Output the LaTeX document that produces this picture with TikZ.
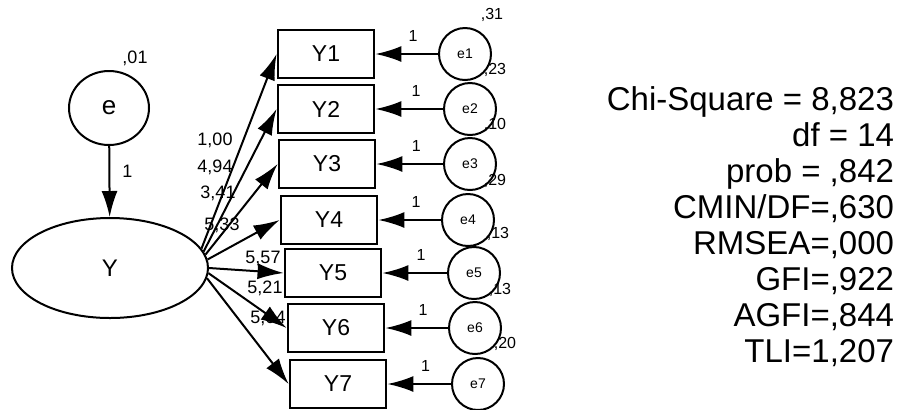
\documentclass[tikz,border=0pt]{standalone}
\usepackage{fontspec}
\setmainfont{Liberation Sans}
\usetikzlibrary{arrows.meta, shapes.geometric}

\begin{document}
\begin{tikzpicture}[x=0.5pt,y=-0.5pt,>={Latex[length=13pt,width=8pt]},line width=1pt,
	obs/.style={draw,line width=1.4pt,minimum width=48pt,minimum height=24pt,inner sep=0pt,
		font=\fontsize{11.5}{13}\selectfont},
	lat/.style={draw,ellipse,inner sep=0pt},
	err/.style={draw,circle,minimum size=26pt,inner sep=0pt,font=\fontsize{7}{8}\selectfont},
	num/.style={inner sep=0pt,font=\fontsize{8}{9}\selectfont},
	ld/.style={inner sep=0pt,font=\fontsize{9}{10}\selectfont},
]
	\useasboundingbox (0,0) rectangle (900,409);

	% latent factor and its disturbance
	\node[lat,minimum width=40pt,minimum height=37pt,font=\fontsize{13}{15}\selectfont] (e) at (109,108) {e};
	\node[lat,minimum width=98pt,minimum height=50pt,font=\fontsize{12}{14}\selectfont] (Y) at (110,268) {Y};
	\node[ld] (ve) at (135,58) {,01};
	\draw[->] (e) -- node[ld,right=6pt,pos=0.35] (le) {1} (Y);

	% indicators with their error terms
	\foreach \i/\bx/\by/\ex in {1/326/54/465, 2/326/109/470, 3/327/164/470, 4/329/220/468,
		5/333/273/474, 6/336/328/475, 7/338/384/478}{
		\node[obs] (Y\i) at (\bx,\by) {Y\i};
		\node[err] (e\i) at (\ex,\by) {e\i};
		\draw[->] (e\i) -- node[num,above=6pt,pos=0.4] (o\i) {1} (Y\i);
	}

	% loadings
	\foreach \i/\a in {1/12,2/10,3/8,4/5,5/0,6/357,7/354}{
		\draw[->] (Y.\a) -- (Y\i.west);
	}
	\foreach \i/\t/\x/\y in {1/{1,00}/215/140, 2/{4,94}/215/167, 3/{3,41}/218/193, 4/{5,33}/222/225,
		5/{5,57}/263/258, 6/{5,21}/265/288, 7/{5,04}/268/318}{
		\node[ld] (w\i) at (\x,\y) {\t};
	}

	% error variances
	\foreach \i/\t/\x/\y in {1/{,31}/492/15, 2/{,23}/495/70, 3/{,10}/495/125, 4/{,29}/495/181,
		5/{,13}/498/234, 6/{,13}/500/290, 7/{,20}/505/344}{
		\node[num] (v\i) at (\x,\y) {\t};
	}

	% fit indices
	\node[align=right,anchor=north east,inner sep=0pt,font=\fontsize{16.5}{18}\selectfont] (fit) at (895,86)
		{Chi-Square = 8,823\\ df = 14\\ prob = ,842\\ CMIN/DF=,630\\ RMSEA=,000\\ GFI=,922\\ AGFI=,844\\ TLI=1,207};
\end{tikzpicture}
\end{document}
